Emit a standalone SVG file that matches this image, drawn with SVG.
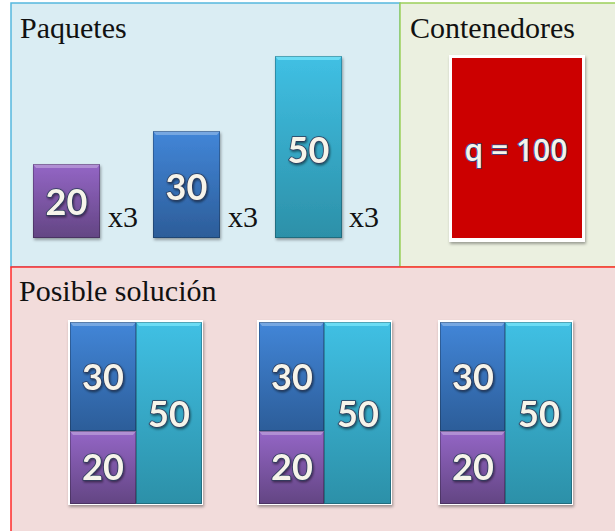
<svg xmlns="http://www.w3.org/2000/svg" width="615" height="531" viewBox="0 0 615 531">
<defs>
<linearGradient id="gPurple" x1="0" y1="0" x2="0" y2="1"><stop offset="0" stop-color="#9466c6"/><stop offset="1" stop-color="#634583"/></linearGradient>
<linearGradient id="gBlue" x1="0" y1="0" x2="0" y2="1"><stop offset="0" stop-color="#4286d8"/><stop offset="1" stop-color="#2c5d99"/></linearGradient>
<linearGradient id="gCyan" x1="0" y1="0" x2="0" y2="1"><stop offset="0" stop-color="#40c0e4"/><stop offset="1" stop-color="#2c90a8"/></linearGradient>
<filter id="shadow" x="-20%" y="-20%" width="140%" height="140%"><feDropShadow dx="1" dy="2" stdDeviation="1.5" flood-color="#000" flood-opacity="0.35"/></filter>
<filter id="tshadow" x="-20%" y="-20%" width="140%" height="140%"><feDropShadow dx="1" dy="1.5" stdDeviation="1" flood-color="#000" flood-opacity="0.5"/></filter>
<style>
.title{font-family:"Liberation Serif","Times New Roman",serif;font-size:30px;fill:#111}
.num{font-family:Lato,"Open Sans",sans-serif;font-weight:700;font-size:36px;fill:#f6f4ea;stroke:#2b3a5a;stroke-width:1.6;paint-order:stroke;text-anchor:middle;filter:url(#tshadow)}
.q{font-family:"Open Sans",Lato,sans-serif;font-weight:600;font-size:30px;fill:#f6f4ea;stroke:#2b4a8a;stroke-width:1.6;paint-order:stroke;text-anchor:middle}
.p{fill:url(#gPurple)}
.b{fill:url(#gBlue)}
.c{fill:url(#gCyan)}
.hl{fill:#ffffff;opacity:0.28}
.edge{fill:none;stroke:#000;stroke-opacity:0.25;stroke-width:1}
.frame{fill:#ffffff;filter:url(#shadow)}
</style>
</defs>

<g id="panel-paquetes">
<rect x="11" y="3" width="389" height="264" fill="#daedf3" stroke="#56b8de" stroke-width="1.5"/>
<text class="title" x="20" y="38">Paquetes</text>
</g>
<g id="panel-contenedores">
<rect x="400" y="3" width="216" height="264" fill="#ebf0e0" stroke="#9ccf5a" stroke-width="1.5"/>
<text class="title" x="410" y="38">Contenedores</text>
</g>
<g id="panel-solucion">
<rect x="11" y="267" width="605" height="266" fill="#f2dcdb" stroke="#ff2a2a" stroke-width="1.5"/>
<text class="title" x="19" y="301">Posible solución</text>
</g>

<g id="pkg-20">
<g filter="url(#shadow)"><rect class="p" x="33" y="164" width="67" height="74"/></g>
<polygon class="hl" points="33,164 100,164 97,168 36,168"/>
<rect class="edge" x="33.5" y="164.5" width="66" height="73"/>
<text class="num" x="66.5" y="215">20</text>
<text class="title" x="108" y="227">x3</text>
</g>
<g id="pkg-30">
<g filter="url(#shadow)"><rect class="b" x="153" y="131" width="67" height="107"/></g>
<polygon class="hl" points="153,131 220,131 217,135 156,135"/>
<rect class="edge" x="153.5" y="131.5" width="66" height="106"/>
<text class="num" x="186.5" y="200">30</text>
<text class="title" x="228" y="227">x3</text>
</g>
<g id="pkg-50">
<g filter="url(#shadow)"><rect class="c" x="275" y="56" width="67" height="182"/></g>
<polygon points="275,56 342,56 339,60 278,60" fill="#7ee8fb" opacity="0.7"/>
<rect class="edge" x="275.5" y="56.5" width="66" height="181"/>
<text class="num" x="308.5" y="163">50</text>
<text class="title" x="349" y="227">x3</text>
</g>

<g id="container">
<rect class="frame" x="449" y="55" width="136" height="187"/>
<rect x="452" y="58" width="130" height="180" fill="#cc0000"/>
<text class="q" x="516" y="161">q = 100</text>
</g>

<g id="sol-1">
<rect class="frame" x="68" y="320" width="135" height="185"/>
<rect class="b" x="70" y="322" width="66" height="109"/>
<polygon class="hl" points="70,322 136,322 133,326 73,326"/>
<rect class="edge" x="70.5" y="322.5" width="65" height="108"/>
<rect class="p" x="70" y="431" width="66" height="73"/>
<polygon class="hl" points="70,431 136,431 133,435 73,435"/>
<rect class="edge" x="70.5" y="431.5" width="65" height="72"/>
<rect class="c" x="136" y="322" width="66" height="182"/>
<polygon points="136,322 202,322 199,326 139,326" fill="#7ee8fb" opacity="0.7"/>
<rect class="edge" x="136.5" y="322.5" width="65" height="181"/>
<text class="num" x="103" y="390">30</text>
<text class="num" x="103" y="480">20</text>
<text class="num" x="169" y="427">50</text>
</g>

<g id="sol-2">
<rect class="frame" x="257" y="320" width="135" height="185"/>
<rect class="b" x="259" y="322" width="65" height="109"/>
<polygon class="hl" points="259,322 324,322 321,326 262,326"/>
<rect class="edge" x="259.5" y="322.5" width="64" height="108"/>
<rect class="p" x="259" y="431" width="65" height="73"/>
<polygon class="hl" points="259,431 324,431 321,435 262,435"/>
<rect class="edge" x="259.5" y="431.5" width="64" height="72"/>
<rect class="c" x="324" y="322" width="67" height="182"/>
<polygon points="324,322 391,322 388,326 327,326" fill="#7ee8fb" opacity="0.7"/>
<rect class="edge" x="324.5" y="322.5" width="66" height="181"/>
<text class="num" x="292" y="390">30</text>
<text class="num" x="292" y="480">20</text>
<text class="num" x="358" y="427">50</text>
</g>

<g id="sol-3">
<rect class="frame" x="438" y="320" width="135" height="185"/>
<rect class="b" x="440" y="322" width="65" height="109"/>
<polygon class="hl" points="440,322 505,322 502,326 443,326"/>
<rect class="edge" x="440.5" y="322.5" width="64" height="108"/>
<rect class="p" x="440" y="431" width="65" height="73"/>
<polygon class="hl" points="440,431 505,431 502,435 443,435"/>
<rect class="edge" x="440.5" y="431.5" width="64" height="72"/>
<rect class="c" x="505" y="322" width="67" height="182"/>
<polygon points="505,322 572,322 569,326 508,326" fill="#7ee8fb" opacity="0.7"/>
<rect class="edge" x="505.5" y="322.5" width="66" height="181"/>
<text class="num" x="473" y="390">30</text>
<text class="num" x="473" y="480">20</text>
<text class="num" x="539" y="427">50</text>
</g>

<g id="connectors"/>
</svg>
